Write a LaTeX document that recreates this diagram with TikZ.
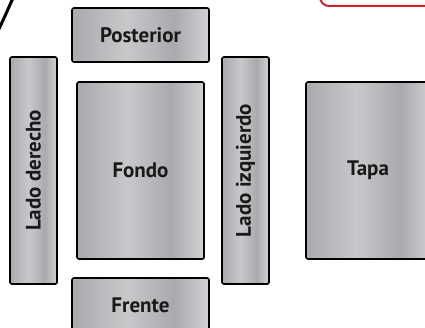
\documentclass[tikz,border=0pt]{standalone}
\usepackage{fontspec}
\setmainfont{PT Sans}
\usetikzlibrary{shadows}
\definecolor{mdark}{HTML}{A9AAAD}
\definecolor{mlight}{HTML}{C7C8CA}
\definecolor{mlight2}{HTML}{D1D2D4}
\definecolor{redline}{HTML}{D2202C}
\pgfdeclarehorizontalshading{metal}{100bp}{color(0bp)=(mdark); color(25bp)=(mdark); color(45bp)=(mlight); color(62bp)=(mdark); color(75bp)=(mlight2); color(100bp)=(mlight2)}
\tikzset{
  box/.style={draw=black, line width=1.6pt, rounded corners=2pt, shading=metal, inner sep=0pt,
    drop shadow={shadow xshift=0.8pt, shadow yshift=-0.8pt, opacity=0.35, fill=black}},
  lbl/.style={font=\fontsize{21}{24}\selectfont\bfseries, text=black!90, inner sep=0pt}
}
\begin{document}
\begin{tikzpicture}[x=1pt,y=-1pt]
\useasboundingbox (0,0) rectangle (425,328);
\clip (0,0) rectangle (425,328);
\draw[redline, line width=2pt, rounded corners=9pt] (320,-20) rectangle (445,6);
\coordinate (ca) at (-2,31);
\coordinate (cb) at (13,-2);
\draw[black, line width=3pt] (ca) .. controls (5,16) .. (cb);
\node[box, minimum width=137pt, minimum height=54pt] (post) at (140.5,35) {};
\node[lbl] (tpost) at (post) {Posterior};
\node[box, minimum width=47pt, minimum height=227pt] (ld) at (33.5,170.5) {};
\node[lbl, rotate=90] (tld) at (ld) {Lado derecho};
\node[box, minimum width=127pt, minimum height=177pt] (fondo) at (140.5,170.5) {};
\node[lbl] (tfondo) at (fondo) {Fondo};
\node[box, minimum width=47pt, minimum height=227pt] (li) at (245.5,170.5) {};
\node[lbl, rotate=90] (tli) at (li) {Lado izquierdo};
\node[box, minimum width=127pt, minimum height=177pt] (tapa) at (369.5,170.5) {};
\node[lbl] (ttapa) at (368,170.5) {Tapa};
\node[box, minimum width=137pt, minimum height=54pt] (frente) at (140.5,305) {};
\node[lbl] (tfrente) at (frente) {Frente};
\end{tikzpicture}
\end{document}
